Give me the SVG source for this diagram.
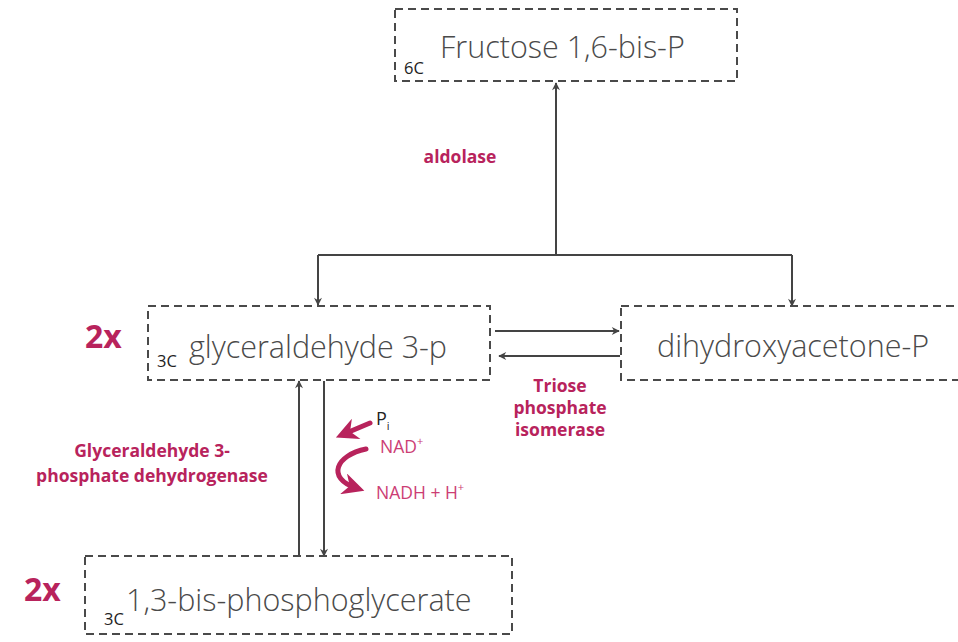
<svg xmlns="http://www.w3.org/2000/svg" width="958" height="642" viewBox="0 0 958 642">
  <style>
    .box { fill: #ffffff; stroke: #4a4a4a; stroke-width: 2; stroke-dasharray: 8 5; }
    .name { font-family: "Open Sans", "Noto Sans", sans-serif; font-size: 30.5px; fill: #4a4a4a; font-weight: 300; }
    .carb { font-family: "Open Sans", "Noto Sans", sans-serif; font-size: 16.5px; fill: #222; }
    .enz { font-family: "Open Sans", "Noto Sans", sans-serif; font-size: 17.5px; font-weight: bold; fill: #b8235c; text-anchor: middle; }
    .mult { font-family: "Open Sans", "Noto Sans", sans-serif; font-size: 32px; font-weight: bold; fill: #b8235c; }
    .cof { font-family: "Open Sans", "Noto Sans", sans-serif; font-size: 17.5px; fill: #cc3d74; }
    .edge { fill: none; stroke: #444; stroke-width: 2; }
    .thick { fill: none; stroke: #b8235c; stroke-width: 5; stroke-linecap: round; }
  </style>
  <defs>
    <marker id="arr" viewBox="0 0 10 10" refX="9" refY="5" markerWidth="9" markerHeight="8" markerUnits="userSpaceOnUse" orient="auto">
      <path d="M0,0 L10,5 L0,10 L3,5 z" fill="#444"/>
    </marker>
    <marker id="arrRed" viewBox="0 0 10 10" refX="6" refY="5" markerWidth="24" markerHeight="22" markerUnits="userSpaceOnUse" orient="auto">
      <path d="M0,0 L10,5 L0,10 L3,5 z" fill="#b8235c"/>
    </marker>
  </defs>

  <rect width="958" height="642" fill="#ffffff"/>

  <g id="connectors">
    <path class="edge" d="M556,255 V83" marker-end="url(#arr)"/>
    <path class="edge" d="M318,255 H792"/>
    <path class="edge" d="M318,255 V305" marker-end="url(#arr)"/>
    <path class="edge" d="M792,255 V306" marker-end="url(#arr)"/>
    <path class="edge" d="M495,331 H619" marker-end="url(#arr)"/>
    <path class="edge" d="M620,356 H499" marker-end="url(#arr)"/>
    <path class="edge" d="M299,556 V381" marker-end="url(#arr)"/>
    <path class="edge" d="M324,381 V556" marker-end="url(#arr)"/>
    <path class="thick" d="M370,423 L344,434" marker-end="url(#arrRed)"/>
    <path class="thick" d="M366,449 C336,455 326,478 356,488" marker-end="url(#arrRed)"/>
  </g>

  <g id="fructose">
    <rect class="box" x="395" y="9" width="342" height="72"/>
    <text class="carb" x="404" y="74">6C</text>
    <text class="name" x="440" y="58">Fructose 1,6-bis-P</text>
  </g>

  <g id="aldolase">
    <text class="enz" x="460" y="163">aldolase</text>
  </g>

  <g id="g3p">
    <rect class="box" x="148" y="306" width="342" height="74"/>
    <text class="carb" x="157" y="367">3C</text>
    <text class="name" x="189" y="358">glyceraldehyde 3-p</text>
    <text class="mult" x="85" y="348">2x</text>
  </g>

  <g id="dhap">
    <rect class="box" x="621" y="306" width="360" height="74"/>
    <text class="name" x="657" y="357">dihydroxyacetone-P</text>
  </g>

  <g id="tpi">
    <text class="enz" x="560" y="392">Triose</text>
    <text class="enz" x="560" y="414">phosphate</text>
    <text class="enz" x="560" y="436">isomerase</text>
  </g>

  <g id="gapdh">
    <text class="enz" x="152" y="457">Glyceraldehyde 3-</text>
    <text class="enz" x="152" y="482">phosphate dehydrogenase</text>
  </g>

  <g id="cofactors">
    <text x="376" y="425" font-family="'Open Sans', 'Noto Sans', sans-serif" font-size="18" fill="#222">P<tspan font-size="11" dy="5">i</tspan></text>
    <text class="cof" x="380" y="453">NAD<tspan font-size="11" dy="-8">+</tspan></text>
    <text class="cof" x="376" y="499">NADH + H<tspan font-size="11" dy="-8">+</tspan></text>
  </g>

  <g id="bpg">
    <rect class="box" x="85" y="556" width="427" height="78"/>
    <text class="carb" x="104" y="625">3C</text>
    <text class="name" x="126" y="611">1,3-bis-phosphoglycerate</text>
    <text class="mult" x="24" y="601">2x</text>
  </g>
</svg>
